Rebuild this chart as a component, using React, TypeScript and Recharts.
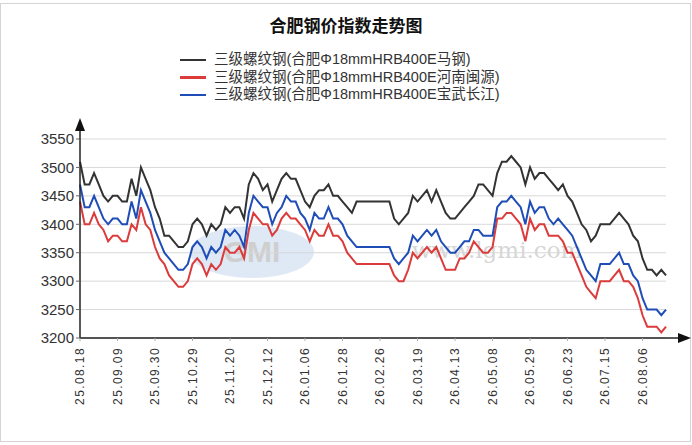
import { CartesianGrid, Legend, Line, LineChart, XAxis, YAxis } from "recharts";

const tickLabels = [
  "25.08.18", "25.09.09", "25.09.30", "25.10.29", "25.11.20", "25.12.12", "26.01.06", "26.01.28",
  "26.02.26", "26.03.19", "26.04.13", "26.05.08", "26.05.29", "26.06.23", "26.07.15", "26.08.06",
];

const yTicks = [3200, 3250, 3300, 3350, 3400, 3450, 3500, 3550];

const seriesNames = [
  "三级螺纹钢(合肥Φ18mmHRB400E马钢)",
  "三级螺纹钢(合肥Φ18mmHRB400E河南闽源)",
  "三级螺纹钢(合肥Φ18mmHRB400E宝武长江)",
];

// 马钢
const maGang = [
  3510, 3470, 3470, 3490, 3470, 3450, 3440, 3450, 3450, 3440,
  3440, 3480, 3450, 3500, 3480, 3460, 3430, 3410, 3380, 3380,
  3370, 3360, 3360, 3370, 3400, 3410, 3400, 3380, 3400, 3390,
  3400, 3430, 3420, 3430, 3430, 3410, 3470, 3490, 3480, 3460,
  3470, 3440, 3460, 3480, 3490, 3480, 3480, 3460, 3440, 3430,
  3450, 3460, 3460, 3470, 3450, 3450, 3440, 3430, 3420, 3440,
  3440, 3440, 3440, 3440, 3440, 3440, 3440, 3410, 3400, 3410,
  3420, 3450, 3440, 3450, 3460, 3440, 3460, 3440, 3420, 3410,
  3410, 3420, 3430, 3440, 3450, 3470, 3470, 3460, 3450, 3490,
  3510, 3510, 3520, 3510, 3500, 3470, 3500, 3480, 3490, 3490,
  3480, 3470, 3460, 3470, 3450, 3440, 3420, 3400, 3390, 3370,
  3380, 3400, 3400, 3400, 3410, 3420, 3410, 3400, 3380, 3370,
  3340, 3320, 3320, 3310, 3320, 3310,
];

// 河南闽源
const henanMinyuan = [
  3440, 3400, 3400, 3420, 3400, 3390, 3370, 3380, 3380, 3370,
  3370, 3400, 3390, 3430, 3400, 3390, 3360, 3340, 3330, 3310,
  3300, 3290, 3290, 3300, 3330, 3340, 3330, 3310, 3330, 3320,
  3330, 3360, 3350, 3350, 3360, 3340, 3390, 3420, 3410, 3400,
  3400, 3380, 3390, 3410, 3420, 3410, 3410, 3400, 3390, 3370,
  3390, 3380, 3380, 3400, 3380, 3380, 3370, 3350, 3340, 3330,
  3330, 3330, 3330, 3330, 3330, 3330, 3330, 3310, 3300, 3300,
  3320, 3350, 3340, 3350, 3360, 3350, 3360, 3340, 3320, 3320,
  3320, 3340, 3340, 3350, 3370, 3360, 3350, 3350, 3360, 3410,
  3410, 3420, 3420, 3410, 3400, 3370, 3410, 3390, 3400, 3400,
  3380, 3380, 3380, 3370, 3350, 3350, 3330, 3310, 3290, 3280,
  3270, 3300, 3300, 3300, 3310, 3320, 3300, 3300, 3290, 3270,
  3240, 3220, 3220, 3220, 3210, 3220,
];

// 宝武长江
const baowuChangjiang = [
  3470, 3430, 3430, 3450, 3430, 3410, 3400, 3410, 3410, 3400,
  3400, 3440, 3410, 3460, 3440, 3420, 3390, 3370, 3350, 3340,
  3330, 3320, 3320, 3330, 3360, 3370, 3360, 3340, 3360, 3350,
  3360, 3390, 3380, 3390, 3380, 3360, 3420, 3450, 3440, 3430,
  3430, 3400, 3420, 3430, 3450, 3440, 3440, 3420, 3410, 3390,
  3420, 3410, 3410, 3430, 3410, 3410, 3400, 3380, 3370, 3360,
  3360, 3360, 3360, 3360, 3360, 3360, 3360, 3340, 3330, 3340,
  3350, 3380, 3370, 3380, 3390, 3380, 3390, 3370, 3360, 3350,
  3350, 3360, 3370, 3370, 3390, 3390, 3380, 3380, 3380, 3430,
  3440, 3440, 3450, 3440, 3430, 3400, 3440, 3420, 3430, 3430,
  3410, 3400, 3410, 3400, 3390, 3380, 3360, 3340, 3320, 3310,
  3300, 3330, 3330, 3330, 3340, 3350, 3330, 3330, 3310, 3300,
  3270, 3250, 3250, 3250, 3240, 3250,
];

const data = maGang.map((v, i) => ({
  i,
  ma: v,
  hn: henanMinyuan[i],
  bw: baowuChangjiang[i],
}));

const FONT = '"Liberation Sans", Arial, "Noto Sans CJK SC", sans-serif';

function DateTick({ x, y, payload }: any) {
  const idx = Number(payload.value);
  const label = idx % 8 === 0 ? tickLabels[idx / 8] : "";
  const ty = y + 4;
  return (
    <text
      x={x}
      y={ty}
      dy={4}
      transform={`rotate(-90 ${x} ${ty})`}
      textAnchor="end"
      fontSize={12}
      letterSpacing={1.4}
      fill="#333"
      fontFamily={FONT}
    >
      {label}
    </text>
  );
}

function LegendRows({ payload }: any) {
  // keep the series order, not the legend's alphabetical sort
  const rows = [...(payload || [])].sort(
    (a: any, b: any) => seriesNames.indexOf(a.value) - seriesNames.indexOf(b.value)
  );
  return (
    <div style={{ fontFamily: FONT, fontSize: 14.5, color: "#333", lineHeight: "17.5px" }}>
      {rows.map((p: any) => (
        <div key={p.value} style={{ display: "flex", alignItems: "center", whiteSpace: "nowrap" }}>
          <span style={{ display: "inline-block", width: 26, height: 2.5, background: p.color, marginRight: 8 }} />
          <span>{p.value}</span>
        </div>
      ))}
    </div>
  );
}

export default function App() {
  return (
    <div style={{ position: "absolute", left: 0, top: 0, width: 692, height: 445, background: "#fff" }}>
      <div
        style={{
          position: "absolute",
          left: 0,
          top: 3,
          width: 689,
          height: 437,
          border: "1px solid #d4d4d4",
        }}
      />
      {/* watermark */}
      <svg width={692} height={445} style={{ position: "absolute", left: 0, top: 0 }}>
        <ellipse cx={252} cy={252} rx={62} ry={26} fill="#d3e2f1" opacity={0.75} />
        <text x={252} y={262} textAnchor="middle" fontSize={30} fontWeight="bold" fill="#cfcfcf" fontFamily={FONT}>
          GMI
        </text>
        <text x={497} y={258} textAnchor="middle" fontSize={23} fill="#d6d6d6" fontFamily="'DejaVu Serif', serif">
          www.lgmi.com
        </text>
      </svg>
      <div
        style={{
          position: "absolute",
          left: 0,
          top: 12,
          width: 692,
          textAlign: "center",
          fontFamily: '"Noto Sans CJK SC", sans-serif',
          fontWeight: "bold",
          fontSize: 17,
          color: "#111",
        }}
      >
        合肥钢价指数走势图
      </div>
      <div style={{ position: "absolute", left: 0, top: 0 }}>
        <LineChart width={692} height={445} data={data} margin={{ top: 139, right: 26, left: 0, bottom: 37 }}>
          <CartesianGrid horizontal vertical={false} stroke="#d9d9d9" />
          <XAxis
            dataKey="i"
            type="category"
            interval={7}
            height={70}
            tick={<DateTick />}
            tickSize={3}
            tickLine={{ stroke: "#aaa" }}
            axisLine={{ stroke: "#222", strokeWidth: 1.5 }}
          />
          <YAxis
            domain={[3200, 3550]}
            ticks={yTicks}
            interval={0}
            width={80}
            tickSize={4}
            tickLine={{ stroke: "#666" }}
            axisLine={{ stroke: "#222", strokeWidth: 1.5 }}
            tick={{ fontSize: 15, fill: "#333", fontFamily: FONT }}
          />
          <Legend
            layout="vertical"
            align="center"
            verticalAlign="middle"
            content={<LegendRows />}
            wrapperStyle={{ position: "absolute", top: 51, left: 180, width: 420 }}
          />
          <Line name={seriesNames[0]} dataKey="ma" stroke="#333333" strokeWidth={2} dot={false} isAnimationActive={false} />
          <Line name={seriesNames[1]} dataKey="hn" stroke="#dc3b3b" strokeWidth={2} dot={false} isAnimationActive={false} />
          <Line name={seriesNames[2]} dataKey="bw" stroke="#1f4db8" strokeWidth={2} dot={false} isAnimationActive={false} />
        </LineChart>
      </div>
      {/* axis arrows */}
      <svg width={692} height={445} style={{ position: "absolute", left: 0, top: 0, pointerEvents: "none" }}>
        <line x1={80} y1={139} x2={80} y2={128} stroke="#222" strokeWidth={1.5} />
        <polygon points="80,118 75,131 85,131" fill="#111" />
        <line x1={666} y1={338} x2={680} y2={338} stroke="#222" strokeWidth={1.5} />
        <polygon points="691,338 678,333 678,343" fill="#111" />
      </svg>
    </div>
  );
}
